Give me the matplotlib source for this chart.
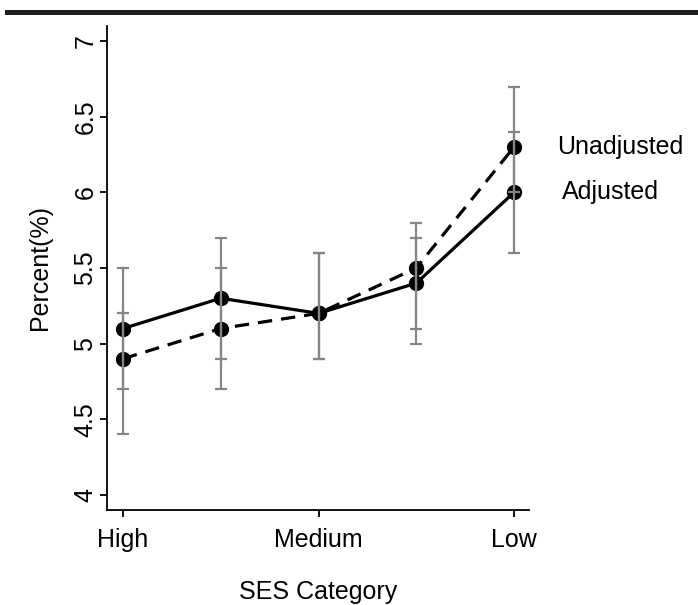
import matplotlib
matplotlib.use("Agg")
from matplotlib import pyplot as plt
from matplotlib.patches import Rectangle

plt.rcParams['font.family'] = ['Liberation Sans', 'DejaVu Sans']

# SES categories (only 1, 3, 5 get a label)
positions = [1, 2, 3, 4, 5]
tick_pos = [1, 3, 5]
tick_labels = ["High", "Medium", "Low"]

# estimates
adjusted = [5.1, 5.3, 5.2, 5.4, 6.0]
adj_lo = [4.7, 4.9, 4.9, 5.0, 5.6]
adj_hi = [5.5, 5.7, 5.6, 5.7, 6.4]

unadjusted = [4.9, 5.1, 5.2, 5.5, 6.3]
unadj_lo = [4.4, 4.7, 4.9, 5.1, 6.0]
unadj_hi = [5.2, 5.5, 5.6, 5.8, 6.7]

yticks = [4, 4.5, 5, 5.5, 6, 6.5, 7]
ytick_labels = ["4", "4.5", "5", "5.5", "6", "6.5", "7"]

fs = 18

fig = plt.figure(figsize=(6.98, 6.05), dpi=100)
ax = fig.add_axes([107/698, 1 - 510/605, (529 - 107)/698, (510 - 26)/605])

# lines + markers first, grey CI bars go on top (like the original)
ax.plot(positions, adjusted, color="black", lw=2.3, marker="o", ms=10, zorder=2)
ax.plot(positions, unadjusted, color="black", lw=2.3, ls=(0, (4.5, 2.8)),
        marker="o", ms=10, zorder=2)

for lo, hi in [(adj_lo, adj_hi), (unadj_lo, unadj_hi)]:
    mid = [(a + b) / 2 for a, b in zip(lo, hi)]
    err = [[m - a for m, a in zip(mid, lo)], [b - m for m, b in zip(mid, hi)]]
    ax.errorbar(positions, mid, yerr=err, fmt="none", ecolor="#858585",
                elinewidth=1.6, capsize=4.6, capthick=1.6, zorder=3)

ax.text(5.44, unadjusted[-1], "Unadjusted", fontsize=fs, va="center", ha="left", clip_on=False)
ax.text(5.49, adjusted[-1], "Adjusted", fontsize=fs, va="center", ha="left", clip_on=False)

ax.set_xlim(0.836, 5.153)
ax.set_ylim(3.9, 7.1)
ax.set_xticks(tick_pos)
ax.set_xticklabels(tick_labels, fontsize=fs)
ax.set_yticks(yticks)
ax.set_yticklabels(ytick_labels, fontsize=fs, rotation=90, va="center")

for side in ["top", "right"]:
    ax.spines[side].set_visible(False)
for side in ["left", "bottom"]:
    ax.spines[side].set_linewidth(1.3)
ax.tick_params(axis="both", length=5, width=1.3, direction="out")
ax.tick_params(axis="y", pad=2)
ax.tick_params(axis="x", pad=8)

fig.text(40/698, 1 - 268/605, "Percent(%)", rotation=90, fontsize=fs,
         ha="center", va="center")
fig.text(318/698, 1 - 592/605, "SES Category", fontsize=fs,
         ha="center", va="center")

# thick rule across the top
fig.add_artist(Rectangle((5/698, 1 - 15/605), 1, 5/605, transform=fig.transFigure,
                         color="#1e1e1e", lw=0))

fig.savefig("out.png", dpi=100)
